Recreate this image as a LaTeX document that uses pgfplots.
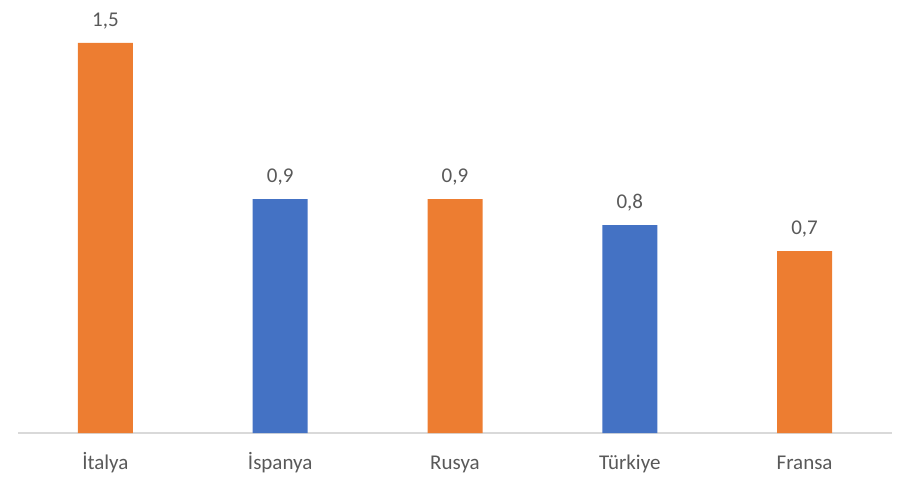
\documentclass[border=0pt]{standalone}
\usepackage{pgfplots}
\pgfplotsset{compat=1.18}
\usepackage{fontspec}
\setmainfont{Carlito}
\definecolor{orng}{HTML}{ED7D31}
\definecolor{blu}{HTML}{4472C4}
\definecolor{txt}{HTML}{595959}
\definecolor{axl}{HTML}{D9D9D9}
\begin{document}
\begin{tikzpicture}
\begin{axis}[
  scale only axis,
  width=874pt, height=416pt,
  xmin=-0.5, xmax=4.5, ymin=0, ymax=1.6,
  axis x line*=bottom,
  axis y line=none,
  x axis line style={axl, line width=1.5pt},
  xtick={0,1,2,3,4},
  xticklabels={İtalya,İspanya,Rusya,Türkiye,Fransa},
  major tick length=0pt,
  xticklabel style={font=\fontsize{21}{25}\selectfont, text=txt, anchor=north, text height=15pt, text depth=5pt, yshift=-18pt},
  ybar, bar width=55pt, bar shift=0pt,
  nodes near coords,
  every node near coord/.append style={font=\fontsize{21}{25}\selectfont, text=txt, yshift=10pt},
  /pgf/number format/.cd, use comma, fixed, fixed zerofill, precision=1, assume math mode=true,
]
\addplot[fill=orng, draw=none] coordinates {(0,1.5) (2,0.9) (4,0.7)};
\addplot[fill=blu, draw=none] coordinates {(1,0.9) (3,0.8)};
\end{axis}
\pgfresetboundingbox
\path (-18pt,-44pt) rectangle (886pt,433pt);
\end{tikzpicture}
\end{document}
